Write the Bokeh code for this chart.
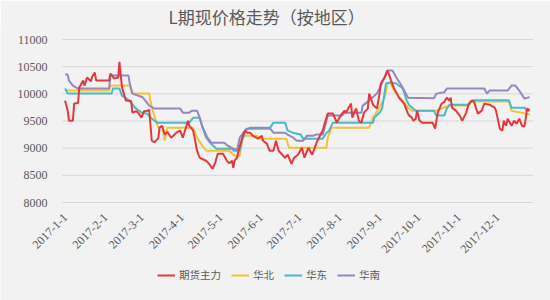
import pandas as pd
from math import pi
from bokeh.plotting import figure
from bokeh.models import (Range1d, Legend, LegendItem, ColumnDataSource)
from bokeh.embed import file_html
from bokeh.resources import INLINE

title_text = "L期现价格走势（按地区）"
series_names = ["期货主力", "华北", "华东", "华南"]

fut_dates = ["2017-01-03","2017-01-05","2017-01-06","2017-01-09","2017-01-10","2017-01-13","2017-01-14","2017-01-17",
             "2017-01-18","2017-01-20","2017-01-23","2017-01-24","2017-01-26","2017-01-27","2017-02-06","2017-02-07",
             "2017-02-10","2017-02-13","2017-02-14","2017-02-16","2017-02-19","2017-02-23","2017-02-24","2017-02-27",
             "2017-03-01","2017-03-03","2017-03-05","2017-03-08","2017-03-09","2017-03-11","2017-03-13","2017-03-16",
             "2017-03-17","2017-03-19","2017-03-21","2017-03-23","2017-03-26","2017-03-29","2017-03-30","2017-04-02",
             "2017-04-04","2017-04-08","2017-04-09","2017-04-12","2017-04-15","2017-04-17","2017-04-19","2017-04-22",
             "2017-04-24","2017-04-27","2017-04-29","2017-05-01","2017-05-05","2017-05-08","2017-05-10","2017-05-12",
             "2017-05-13","2017-05-14","2017-05-16","2017-05-17","2017-05-20","2017-05-22","2017-05-24","2017-05-26",
             "2017-05-28","2017-06-01","2017-06-04","2017-06-05","2017-06-08","2017-06-10","2017-06-13","2017-06-15",
             "2017-06-17","2017-06-22","2017-06-24","2017-06-27","2017-06-29","2017-07-02","2017-07-05","2017-07-07",
             "2017-07-10","2017-07-13","2017-07-15","2017-07-17","2017-07-21","2017-07-24","2017-07-25","2017-07-29",
             "2017-08-01","2017-08-03","2017-08-05","2017-08-07","2017-08-08","2017-08-12","2017-08-13","2017-08-15",
             "2017-08-16","2017-08-18","2017-08-20","2017-08-22","2017-08-25","2017-08-26","2017-08-29","2017-09-01",
             "2017-09-03","2017-09-04","2017-09-07","2017-09-09","2017-09-10","2017-09-12","2017-09-14","2017-09-18",
             "2017-09-22","2017-09-25","2017-09-26","2017-09-28","2017-09-29","2017-10-01","2017-10-02","2017-10-04",
             "2017-10-06","2017-10-14","2017-10-16","2017-10-18","2017-10-21","2017-10-23","2017-10-25","2017-10-27",
             "2017-10-28","2017-10-29","2017-11-01","2017-11-04","2017-11-06","2017-11-09","2017-11-11","2017-11-13",
             "2017-11-15","2017-11-18","2017-11-19","2017-11-21","2017-11-23","2017-11-27","2017-12-01","2017-12-02",
             "2017-12-05","2017-12-07","2017-12-08","2017-12-10","2017-12-11","2017-12-14","2017-12-16","2017-12-18",
             "2017-12-20","2017-12-22","2017-12-24","2017-12-25","2017-12-26","2017-12-28"]
fut_values = [9875,9690,9506,9506,9820,9830,10115,10244,
              10150,10300,10230,10318,10392,10244,10244,10373,
              10280,10300,10590,10115,9875,9870,9654,9680,
              9636,9562,9680,9690,9710,9138,9110,9180,
              9377,9414,9250,9300,9193,9260,9285,9322,
              9193,9506,9414,9322,8953,8824,8800,8769,
              8720,8621,8730,8898,8898,8769,8720,8769,
              8640,8769,8824,8953,9193,9322,9285,9285,
              9230,9174,9230,9138,9080,8953,8953,9138,
              8953,8824,8880,8713,8824,8880,9009,8824,
              9009,8880,9009,9138,9322,9562,9636,9636,
              9470,9562,9636,9690,9654,9820,9562,9690,
              9728,9506,9470,9654,9728,10004,9800,9728,
              10004,10189,10300,10428,10380,10244,10115,9930,
              9820,9636,9599,9562,9506,9543,9691,9506,
              9470,9470,9359,9654,9820,9850,9930,9875,
              9930,9746,9691,9599,9506,9654,9820,9875,
              9860,9635,9654,9691,9820,9800,9746,9691,
              9359,9322,9506,9414,9543,9414,9506,9450,
              9543,9414,9400,9543,9728,9700]

north_dates = ["2017-01-03","2017-02-06","2017-02-07","2017-02-22","2017-02-24","2017-03-09","2017-03-11","2017-03-16",
               "2017-03-19","2017-03-21","2017-03-23","2017-04-12","2017-04-15","2017-04-19","2017-04-22","2017-05-10",
               "2017-05-14","2017-05-18","2017-05-20","2017-05-22","2017-05-31","2017-06-03","2017-06-23","2017-06-25",
               "2017-07-24","2017-07-25","2017-07-28","2017-08-26","2017-08-29","2017-09-03","2017-09-07","2017-09-09",
               "2017-09-11","2017-09-13","2017-09-16","2017-09-21","2017-09-25","2017-09-28","2017-10-17","2017-10-22",
               "2017-10-27","2017-11-11","2017-11-13","2017-12-12","2017-12-14","2017-12-25","2017-12-28"]
north_values = [10060,10060,10152,10152,10004,10004,9746,9377,
                9400,9138,9377,9377,9193,9046,8953,8953,
                8861,8861,9193,9230,9230,9175,9175,9009,
                9009,9193,9377,9377,9562,9746,9930,10189,
                10210,10115,10004,9875,9750,9690,9690,9740,
                9783,9783,9860,9860,9690,9636,9620]

east_dates = ["2017-01-03","2017-01-05","2017-02-08","2017-02-09","2017-02-14","2017-02-16","2017-02-22","2017-02-26",
              "2017-03-03","2017-03-07","2017-03-11","2017-03-15","2017-04-09","2017-04-12","2017-04-17","2017-04-19",
              "2017-04-22","2017-04-25","2017-04-30","2017-05-12","2017-05-13","2017-05-18","2017-05-20","2017-05-23",
              "2017-06-10","2017-06-13","2017-06-22","2017-06-24","2017-06-28","2017-07-04","2017-07-06","2017-07-21",
              "2017-07-24","2017-07-26","2017-07-29","2017-08-29","2017-08-30","2017-09-03","2017-09-05","2017-09-08",
              "2017-09-11","2017-09-16","2017-09-21","2017-09-24","2017-09-26","2017-10-01","2017-10-15","2017-10-17",
              "2017-10-23","2017-10-25","2017-10-27","2017-11-11","2017-11-14","2017-12-12","2017-12-14","2017-12-24",
              "2017-12-26","2017-12-28"]
east_values = [10097,10004,10004,10097,10097,9967,9875,9746,
               9654,9640,9543,9470,9470,9562,9562,9400,
               9193,9100,8990,8990,8953,8953,9150,9359,
               9359,9470,9470,9322,9285,9250,9175,9175,
               9280,9322,9470,9470,9562,9650,9728,10189,
               10210,10189,10097,9875,9790,9690,9690,9599,
               9599,9728,9800,9800,9880,9880,9746,9746,
               9690,9690]

south_dates = ["2017-01-03","2017-01-05","2017-01-06","2017-01-09","2017-01-13","2017-02-06","2017-02-07","2017-02-21",
               "2017-02-22","2017-02-24","2017-03-04","2017-03-06","2017-03-09","2017-03-13","2017-04-02","2017-04-04",
               "2017-04-09","2017-04-11","2017-04-15","2017-04-17","2017-04-19","2017-04-23","2017-04-26","2017-05-06",
               "2017-05-09","2017-05-13","2017-05-16","2017-05-18","2017-05-22","2017-05-26","2017-06-10","2017-06-13",
               "2017-06-22","2017-06-24","2017-06-28","2017-07-01","2017-07-06","2017-07-09","2017-07-14","2017-07-16",
               "2017-07-21","2017-07-22","2017-07-25","2017-08-05","2017-08-07","2017-08-20","2017-08-21","2017-08-26",
               "2017-09-01","2017-09-05","2017-09-09","2017-09-13","2017-09-16","2017-09-20","2017-09-25","2017-10-15",
               "2017-10-17","2017-10-23","2017-10-25","2017-11-23","2017-11-25","2017-11-27","2017-12-11","2017-12-14",
               "2017-12-17","2017-12-20","2017-12-24","2017-12-28"]
south_values = [10354,10354,10244,10152,10097,10097,10336,10336,
                10189,10004,9936,9875,9783,9728,9728,9654,
                9654,9690,9690,9562,9400,9193,9101,9101,
                9040,8990,8970,9193,9322,9377,9377,9285,
                9285,9250,9200,9138,9138,9230,9230,9250,
                9250,9322,9599,9599,9654,9654,9783,9875,
                10004,10200,10428,10428,10300,10152,9930,9920,
                10004,10028,10097,10097,10004,10060,10060,10152,
                10152,10060,9912,9940]

tick_dates = ["2017-01-01","2017-02-01","2017-03-01","2017-04-01","2017-05-01","2017-06-01",
              "2017-07-01","2017-08-01","2017-09-01","2017-10-01","2017-11-01","2017-12-01"]
tick_labels = ["2017-1-1","2017-2-1","2017-3-1","2017-4-1","2017-5-1","2017-6-1",
               "2017-7-1","2017-8-1","2017-9-1","2017-10-1","2017-11-1","2017-12-1"]
y_ticks = [8000, 8500, 9000, 9500, 10000, 10500, 11000]
y_tick_labels = ["8000", "8500", "9000", "9500", "10000", "10500", "11000"]
x_start, x_end = "2017-01-01", "2017-12-31"

colors = ["#E5383D", "#F3C239", "#4BB9C9", "#9487BF"]
FONT = "Noto Sans CJK SC"
GRAY = "#595959"
BG = "#f2f2f2"

# layout in pixels: plot area x 62..533, value axis y 202(8000)..39(11000);
# the drawing frame is extended to the left, top and bottom so labels/legend are not clipped
W, H = 550, 300
PLOT_LEFT, PLOT_RIGHT = 62, 533
PLOT_TOP, AXIS_BOTTOM = 39, 202
FRAME_TOP = 28
y_min, y_max = y_ticks[0], y_ticks[-1]
units_per_px = (y_max - y_min) / (AXIS_BOTTOM - PLOT_TOP)
y_low = y_min - (H - AXIS_BOTTOM) * units_per_px
y_high = y_max + (PLOT_TOP - FRAME_TOP) * units_per_px

t0, t1 = pd.Timestamp(x_start), pd.Timestamp(x_end)
ms_per_px = (t1 - t0).total_seconds() * 1000 / (PLOT_RIGHT - PLOT_LEFT)
x_low_ms = t0.value // 10**6 - PLOT_LEFT * ms_per_px
x_high_ms = t1.value // 10**6

p = figure(width=W, height=H, output_backend="svg", toolbar_location=None,
           x_axis_type="datetime",
           x_range=Range1d(x_low_ms, x_high_ms),
           y_range=Range1d(y_low, y_high),
           min_border_left=0, min_border_right=W - PLOT_RIGHT, min_border_top=FRAME_TOP, min_border_bottom=0,
           background_fill_color=BG, border_fill_color=BG, outline_line_color=None)

p.title.text = title_text
p.title.text_font = FONT
p.title.text_font_size = "17px"
p.title.text_font_style = "normal"
p.title.text_color = GRAY
p.title.align = "left"
p.title.offset = 168
p.title.standoff = 0

p.xaxis.visible = False
p.yaxis.visible = False
p.xgrid.grid_line_color = None
p.ygrid.grid_line_color = None

# horizontal grid lines at the value ticks, across the year
grid_src = ColumnDataSource(dict(x0=[t0] * len(y_ticks), x1=[t1] * len(y_ticks), y=y_ticks))
p.segment(x0="x0", y0="y", x1="x1", y1="y", source=grid_src, line_color="#d6d6d6", line_width=1)

# value labels
ylab_src = ColumnDataSource(dict(x=[t0] * len(y_ticks), y=y_ticks, t=y_tick_labels))
p.text("x", "y", text="t", source=ylab_src, text_align="right", text_baseline="middle",
       x_offset=-15, text_font=FONT, text_font_size="12px", text_color=GRAY)

items = []
for name, d, v, c in [(series_names[0], fut_dates, fut_values, colors[0]),
                      (series_names[1], north_dates, north_values, colors[1]),
                      (series_names[2], east_dates, east_values, colors[2]),
                      (series_names[3], south_dates, south_values, colors[3])]:
    src = ColumnDataSource(dict(x=pd.to_datetime(d), y=v))
    r = p.line("x", "y", source=src, line_color=c, line_width=2)
    items.append((r, LegendItem(label=name, renderers=[r])))

# draw futures line on top of the spot lines
line_rs = [r for r, _ in items]
others = [r for r in p.renderers if r not in line_rs]
p.renderers = others + line_rs[1:] + line_rs[:1]

# date tick labels on the datetime scale, below the 8000 line
tick_src = ColumnDataSource(dict(x=pd.to_datetime(tick_dates), y=[y_min] * len(tick_dates), t=tick_labels))
p.text("x", "y", text="t", source=tick_src, angle=pi / 4, text_align="right", text_baseline="middle",
       x_offset=3, y_offset=13, text_font=FONT, text_font_size="12px", text_color=GRAY)

legend = Legend(items=[it for _, it in items], orientation="horizontal", location=(157, 18),
                label_text_font=FONT, label_text_font_size="10.5px", label_text_color=GRAY,
                glyph_width=18, glyph_height=12, label_standoff=4, spacing=10,
                padding=0, margin=0, border_line_color=None, background_fill_alpha=0)
p.add_layout(legend, "center")

open("out.html", "w").write(file_html(p, INLINE))
